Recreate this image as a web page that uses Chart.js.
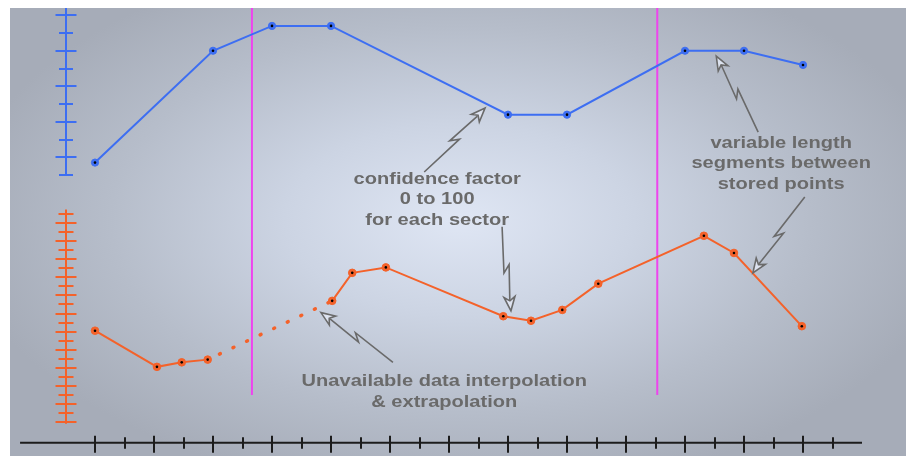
<!DOCTYPE html>
<html>
<head>
<meta charset="utf-8">
<script src="https://cdn.jsdelivr.net/npm/chart.js@4.4.1/dist/chart.umd.min.js"></script>
<style>
  html, body { margin: 0; padding: 0; background: #fff; }
  #wrap { width: 906px; height: 456px; }
</style>
</head>
<body>
<div id="wrap"><canvas id="chart" width="906" height="456"></canvas></div>
<script>
// track position (1 unit = one major tick on the bottom axis)
const blueX = [0, 2, 3, 4, 7, 8, 10, 11, 12];
// confidence factor 0..100
const blueY = [7, 70, 84, 84, 34, 34, 70, 70, 62];

const orangeX = [0, 1.05, 1.47, 1.91, 4.02, 4.36, 4.93, 6.92, 7.39, 7.92, 8.53, 10.32, 10.83, 11.98];
const orangeY = [10.1, 6.1, 6.6, 6.9, 13.4, 16.5, 17.1, 11.7, 11.2, 12.4, 15.3, 20.6, 18.7, 10.6];
// segment (starting at this index) that is interpolated -> dotted
const gapSegment = 3;

// sector boundaries (magenta)
const sectorBounds = [2.66, 9.53];
const sectorLow = 3.0;   // on the orange scale
const sectorHigh = 48;

// axis ticks
const xTicks = [0, 0.5, 1, 1.5, 2, 2.5, 3, 3.5, 4, 4.5, 5, 5.5, 6, 6.5, 7, 7.5, 8, 8.5, 9, 9.5, 10, 10.5, 11, 11.5, 12, 12.5];
const blueTicks = [0, 10, 20, 30, 40, 50, 60, 70, 80, 90];
const orangeTicks = [0, 1, 2, 3, 4, 5, 6, 7, 8, 9, 10, 11, 12, 13, 14, 15, 16, 17, 18, 19, 20, 21, 22, 23];

// callouts
const notes = [
    { lines: ['confidence factor', '0 to 100', 'for each sector'], x: 5.80, y: -2.3, axis: 'yB' },
    { lines: ['variable length', 'segments between', 'stored points'], x: 11.63, y: 18.0, axis: 'yB' },
    { lines: ['Unavailable data interpolation', '& extrapolation'], x: 5.92, y: 4.5, axis: 'yO' }
];
const arrows = [
    { from: [5.58, 1.7, 'yB'], to: [6.61, 37.7, 'yB'] },
    { from: [6.90, 21.6, 'yO'], to: [7.05, 12.3, 'yO'] },
    { from: [11.24, 24.2, 'yB'], to: [10.53, 67.0, 'yB'] },
    { from: [12.03, 24.9, 'yO'], to: [11.15, 16.5, 'yO'] },
    { from: [5.05, 6.6, 'yO'], to: [3.83, 12.1, 'yO'] }
];

const BLUE = '#3d6ef2';
const ORANGE = '#f4622a';
const MAGENTA = '#ee44ee';
const NOTE = '#6a6a6a';

const W = 906, H = 456;
// pixel anchors used to size the hidden scales
const x0px = 95, xUnit = 59;
const b0px = 175, bUnit = 1.775;
const o0px = 422, oUnit = 9.04;

const bluePts = blueX.map((x, i) => ({ x: x, y: blueY[i] }));
const orangePts = orangeX.map((x, i) => ({ x: x, y: orangeY[i] }));

function px(chart, x, y, axis) {
    return [chart.scales.x.getPixelForValue(x), chart.scales[axis].getPixelForValue(y)];
}

function drawBolt(ctx, t, p) {
    const dx = p[0] - t[0], dy = p[1] - t[1];
    const len = Math.hypot(dx, dy);
    const ux = dx / len, uy = dy / len, nx = -uy, ny = ux;
    const head = 14, hw = 5.5;
    const mx = t[0] + dx * 0.5, my = t[1] + dy * 0.5;
    const bx = p[0] - ux * head, by = p[1] - uy * head;
    ctx.beginPath();
    ctx.moveTo(t[0], t[1]);
    ctx.lineTo(mx + ux * 4 + nx * 3, my + uy * 4 + ny * 3);
    ctx.lineTo(mx - ux * 4 - nx * 3, my - uy * 4 - ny * 3);
    ctx.lineTo(bx + ux * 3, by + uy * 3);
    ctx.stroke();
    ctx.beginPath();
    ctx.moveTo(p[0], p[1]);
    ctx.lineTo(bx + nx * hw, by + ny * hw);
    ctx.lineTo(bx + ux * 4, by + uy * 4);
    ctx.lineTo(bx - nx * hw, by - ny * hw);
    ctx.closePath();
    ctx.fillStyle = 'rgba(222,228,240,0.95)';
    ctx.fill();
    ctx.stroke();
}

const decor = {
    id: 'decor',
    beforeDraw(chart) {
        const ctx = chart.ctx;
        ctx.save();
        ctx.translate(460, 220);
        ctx.scale(1, 0.55);
        const g = ctx.createRadialGradient(0, 0, 0, 0, 0, 500);
        g.addColorStop(0, '#dfe6f4');
        g.addColorStop(0.35, '#ccd4e3');
        g.addColorStop(0.7, '#b6bdca');
        g.addColorStop(1, '#a6acb8');
        ctx.fillStyle = g;
        ctx.fillRect(-1000, -1000, 2000, 2000);
        ctx.restore();
    },
    beforeDatasetsDraw(chart) {
        const ctx = chart.ctx;
        const xs = chart.scales.x, yB = chart.scales.yB, yO = chart.scales.yO;
        ctx.save();
        ctx.lineCap = 'butt';

        // bottom axis
        const ay = yO.getPixelForValue(-2.3);
        ctx.strokeStyle = '#1c1c1c';
        ctx.lineWidth = 2;
        ctx.beginPath();
        ctx.moveTo(xs.getPixelForValue(-1.27), ay);
        ctx.lineTo(xs.getPixelForValue(13.0), ay);
        ctx.stroke();
        xTicks.forEach(v => {
            const x = Math.round(xs.getPixelForValue(v));
            const major = Number.isInteger(v);
            ctx.beginPath();
            ctx.moveTo(x, ay - (major ? 7 : 5.5));
            ctx.lineTo(x, ay + (major ? 10 : 6));
            ctx.stroke();
        });

        // vertical axes
        const vx = Math.round(xs.getPixelForValue(-0.5));
        ctx.strokeStyle = BLUE;
        ctx.beginPath();
        ctx.moveTo(vx, 0);
        ctx.lineTo(vx, yB.getPixelForValue(0));
        ctx.stroke();
        blueTicks.forEach(v => {
            const y = Math.round(yB.getPixelForValue(v));
            const wide = (v / 10) % 2 === 1;
            ctx.beginPath();
            ctx.moveTo(vx - (wide ? 10.5 : 7), y);
            ctx.lineTo(vx + (wide ? 10.5 : 7), y);
            ctx.stroke();
        });

        ctx.strokeStyle = ORANGE;
        ctx.beginPath();
        ctx.moveTo(vx, yO.getPixelForValue(23.5));
        ctx.lineTo(vx, yO.getPixelForValue(-0.2));
        ctx.stroke();
        orangeTicks.forEach(v => {
            const y = Math.round(yO.getPixelForValue(v));
            const wide = v % 2 === 0;
            ctx.beginPath();
            ctx.moveTo(vx - (wide ? 10.5 : 7.5), y);
            ctx.lineTo(vx + (wide ? 10.5 : 7.5), y);
            ctx.stroke();
        });
        ctx.restore();
    },
    afterDatasetsDraw(chart) {
        const ctx = chart.ctx;
        ctx.save();
        ctx.strokeStyle = NOTE;
        ctx.lineWidth = 1.6;
        ctx.lineJoin = 'miter';
        arrows.forEach(a => {
            drawBolt(ctx, px(chart, a.from[0], a.from[1], a.from[2]), px(chart, a.to[0], a.to[1], a.to[2]));
        });

        ctx.fillStyle = NOTE;
        ctx.font = 'bold 17px "Liberation Sans", Arial, sans-serif';
        ctx.textAlign = 'center';
        ctx.textBaseline = 'middle';
        notes.forEach(n => {
            const p = px(chart, n.x, n.y, n.axis);
            n.lines.forEach((line, i) => {
                ctx.save();
                ctx.translate(p[0], p[1] + i * 20.5);
                ctx.scale(1.18, 1);
                ctx.fillText(line, 0, 0);
                ctx.restore();
            });
        });
        ctx.restore();
    },
    afterDraw(chart) {
        const ctx = chart.ctx;
        ctx.save();
        ctx.fillStyle = '#ffffff';
        ctx.fillRect(0, 0, W, 8);
        ctx.fillRect(0, 0, 10, H);
        ctx.restore();
    }
};

const datasets = [
    {
        data: bluePts, yAxisID: 'yB', showLine: false,
        pointRadius: 1.3, pointBackgroundColor: '#000', pointBorderWidth: 0, order: 0
    },
    {
        data: orangePts, yAxisID: 'yO', showLine: false,
        pointRadius: 1.3, pointBackgroundColor: '#000', pointBorderWidth: 0, order: 0
    },
    {
        data: bluePts, yAxisID: 'yB', borderColor: BLUE, borderWidth: 2,
        pointRadius: 3.6, pointBackgroundColor: BLUE, pointBorderColor: BLUE, pointBorderWidth: 1, order: 1
    },
    {
        data: orangePts, yAxisID: 'yO', borderColor: ORANGE, borderWidth: 2,
        pointRadius: 3.8, pointBackgroundColor: ORANGE, pointBorderColor: ORANGE, pointBorderWidth: 1, order: 1,
        segment: {
            borderDash: ctx => ctx.p0DataIndex === gapSegment ? [1, 14] : undefined,
            borderDashOffset: ctx => ctx.p0DataIndex === gapSegment ? 2 : undefined,
            borderWidth: ctx => ctx.p0DataIndex === gapSegment ? 3.5 : undefined,
            borderCapStyle: ctx => ctx.p0DataIndex === gapSegment ? 'round' : undefined
        }
    }
];
sectorBounds.forEach(b => {
    datasets.push({
        data: [{ x: b, y: sectorLow }, { x: b, y: sectorHigh }], yAxisID: 'yO',
        borderColor: MAGENTA, borderWidth: 2, pointRadius: 0, order: 5
    });
});

new Chart(document.getElementById('chart'), {
    type: 'line',
    data: { datasets: datasets },
    options: {
        responsive: false,
        animation: false,
        devicePixelRatio: 1,
        layout: { padding: 0, autoPadding: false },
        elements: { line: { tension: 0 } },
        plugins: { legend: { display: false }, tooltip: { enabled: false } },
        scales: {
            x: { type: 'linear', display: false, bounds: 'data',
                 min: -x0px / xUnit, max: (W - x0px) / xUnit },
            yB: { type: 'linear', display: false, bounds: 'data',
                  min: (b0px - H) / bUnit, max: b0px / bUnit },
            yO: { type: 'linear', display: false, bounds: 'data',
                  min: (o0px - H) / oUnit, max: o0px / oUnit }
        }
    },
    plugins: [decor]
});
</script>
</body>
</html>
